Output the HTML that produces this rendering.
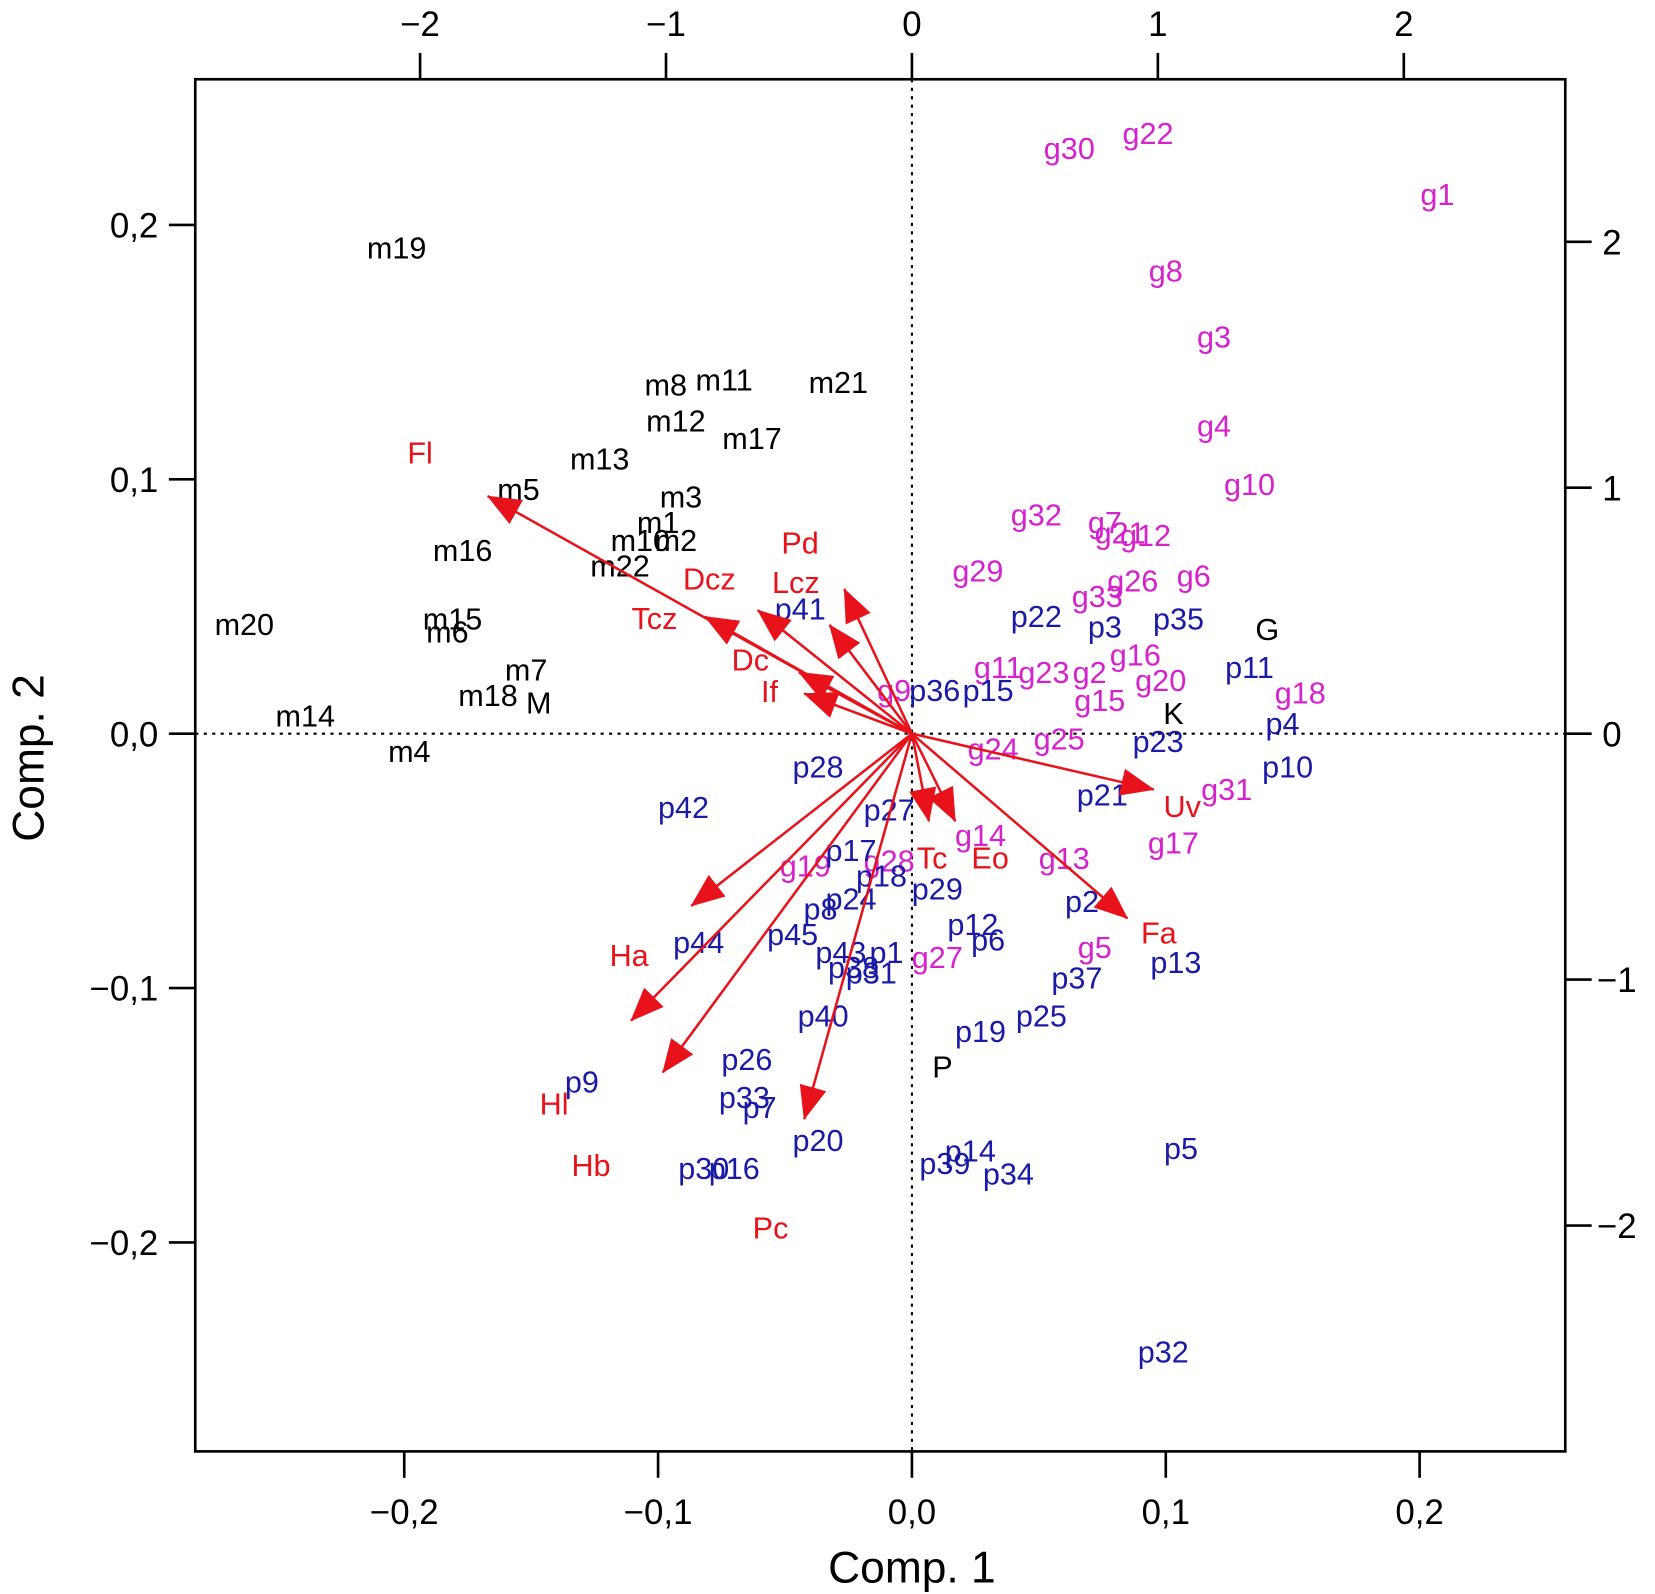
<!DOCTYPE html>
<html><head><meta charset="utf-8"><style>
html,body{margin:0;padding:0;background:#fff}
svg{display:block}
text{font-family:"Liberation Sans",Arial,sans-serif}
</style></head><body>
<svg id="chart" width="1655" height="1594" viewBox="0 0 1568 1510" xmlns="http://www.w3.org/2000/svg">
<defs><marker id="ah" viewBox="0 0 32 26" refX="31" refY="13" markerWidth="32" markerHeight="26" markerUnits="userSpaceOnUse" orient="auto"><path d="M0,0 L32,13 L0,26 z" fill="#e8121a"/></marker></defs>
<g id="plot"></g>
</svg>
<script>
const xTicks=[-0.2,-0.1,0,0.1,0.2];
const yTicks=[-0.2,-0.1,0,0.1,0.2];
const xTickLabels=["\u22120,2","\u22120,1","0,0","0,1","0,2"];
const yTickLabels=["\u22120,2","\u22120,1","0,0","0,1","0,2"];
const topTicks=[-2,-1,0,1,2];
const rightTicks=[-2,-1,0,1,2];
const topTickLabels=["\u22122","\u22121","0","1","2"];
const rightTickLabels=["\u22122","\u22121","0","1","2"];
const mNames=["m19","m8","m11","m21","m12","m17","m13","m3","m5","m1","m10","m2","m22","m16","m20","m15","m6","m7","m18","M","m14","m4"];
const mX=[-0.203,-0.097,-0.074,-0.029,-0.093,-0.063,-0.123,-0.091,-0.155,-0.100,-0.107,-0.093,-0.115,-0.177,-0.263,-0.181,-0.183,-0.152,-0.167,-0.147,-0.239,-0.198];
const mY=[0.191,0.137,0.139,0.138,0.123,0.116,0.108,0.093,0.096,0.083,0.076,0.076,0.066,0.072,0.043,0.045,0.040,0.025,0.015,0.012,0.007,-0.007];
const gNames=["g30","g22","g1","g8","g3","g4","g10","g32","g7","g21","g12","g29","g26","g6","g33","g16","g11","g23","g2","g20","g18","g15","g9","g25","g24","g31","g17","g14","g13","g28","g19","g5","g27"];
const gX=[0.062,0.093,0.207,0.100,0.119,0.119,0.133,0.049,0.076,0.082,0.092,0.026,0.087,0.111,0.073,0.088,0.034,0.052,0.070,0.098,0.153,0.074,-0.007,0.058,0.032,0.124,0.103,0.027,0.060,-0.009,-0.042,0.072,0.010];
const gY=[0.230,0.236,0.212,0.182,0.156,0.121,0.098,0.086,0.083,0.079,0.078,0.064,0.060,0.062,0.054,0.031,0.026,0.024,0.024,0.021,0.016,0.013,0.017,-0.002,-0.006,-0.022,-0.043,-0.040,-0.049,-0.050,-0.052,-0.084,-0.088];
const pNames=["p22","p3","p35","p41","p36","p15","p11","p4","p23","p10","p21","p28","p42","p27","p17","p18","p24","p8","p29","p2","p12","p6","p44","p45","p43","p1","p38","p31","p13","p37","p40","p25","p19","p26","p9","p33","p7","p20","p14","p39","p34","p30","p16","p5","p32"];
const pX=[0.049,0.076,0.105,-0.044,0.009,0.030,0.133,0.146,0.097,0.148,0.075,-0.037,-0.090,-0.009,-0.024,-0.012,-0.024,-0.036,0.010,0.067,0.024,0.030,-0.084,-0.047,-0.028,-0.010,-0.023,-0.016,0.104,0.065,-0.035,0.051,0.027,-0.065,-0.130,-0.066,-0.060,-0.037,0.023,0.013,0.038,-0.082,-0.070,0.106,0.099];
const pY=[0.046,0.042,0.045,0.049,0.017,0.017,0.026,0.004,-0.003,-0.013,-0.024,-0.013,-0.029,-0.030,-0.046,-0.056,-0.065,-0.069,-0.061,-0.066,-0.075,-0.081,-0.082,-0.079,-0.086,-0.086,-0.092,-0.094,-0.090,-0.096,-0.111,-0.111,-0.117,-0.128,-0.137,-0.143,-0.147,-0.160,-0.164,-0.169,-0.173,-0.171,-0.171,-0.163,-0.243];
const kNames=["P","G","K"];
const kX=[0.012,0.140,0.103];
const kY=[-0.131,0.041,0.008];
const vNames=["Fl","Tcz","Dcz","Lcz","Pd","Dc","If","Uv","Fa","Tc","Eo","Ha","Hl","Hb","Pc"];
const vX=[-1.725,-0.841,-0.627,-0.275,-0.335,-0.459,-0.438,0.983,0.876,0.069,0.176,-0.897,-1.142,-1.013,-0.438];
const vY=[0.966,0.476,0.502,0.588,0.442,0.249,0.163,-0.227,-0.751,-0.356,-0.356,-0.700,-1.167,-1.378,-1.567];
const vLabelX=[-2.000,-1.047,-0.824,-0.472,-0.455,-0.657,-0.579,1.099,1.004,0.082,0.318,-1.150,-1.455,-1.305,-0.575];
const vLabelY=[1.142,0.468,0.629,0.614,0.776,0.300,0.172,-0.296,-0.811,-0.506,-0.506,-0.901,-1.506,-1.755,-2.009];

const NS="http://www.w3.org/2000/svg";
const g=document.getElementById('plot');
const L=185,R=1483,T=75,B=1375,X0=864,Y0=695;
const sx=v=>X0+v*2405, sy=v=>Y0-v*2410;
const lx=v=>X0+v*233, ly=v=>Y0-v*233;
function mk(tag,attrs,txt){const e=document.createElementNS(NS,tag);for(const k in attrs)e.setAttribute(k,attrs[k]);if(txt!==undefined)e.textContent=txt;g.appendChild(e);return e;}
let e=mk('line',{x1:L,x2:R,y1:Y0,y2:Y0,stroke:'#000','stroke-width':2,'stroke-dasharray':'3,5'});

e=mk('line',{x1:X0,x2:X0,y1:T,y2:B,stroke:'#000','stroke-width':2,'stroke-dasharray':'3,5'});

xTicks.forEach((v,i)=>{const x=sx(v);
 e=mk('line',{x1:x,x2:x,y1:B,y2:B+25,stroke:'#000','stroke-width':2.5});
 
 e=mk('text',{x:x,y:1444,'font-size':33,'text-anchor':'middle'},xTickLabels[i]);
 });
yTicks.forEach((v,i)=>{const y=sy(v);
 e=mk('line',{x1:L-25,x2:L,y1:y,y2:y,stroke:'#000','stroke-width':2.5});
 
 e=mk('text',{x:150,y:y+12,'font-size':33,'text-anchor':'end'},yTickLabels[i]);
 });
topTicks.forEach((v,i)=>{const x=lx(v);
 e=mk('line',{x1:x,x2:x,y1:T-25,y2:T,stroke:'#000','stroke-width':2.5});
 
 e=mk('text',{x:x,y:34,'font-size':33,'text-anchor':'middle'},topTickLabels[i]);
 });
rightTicks.forEach((v,i)=>{const y=ly(v);
 e=mk('line',{x1:R,x2:R+25,y1:y,y2:y,stroke:'#000','stroke-width':2.5});
 
 e=mk('text',{x:rightTickLabels[i].length>1?1513:1518,y:y+12,'font-size':33,'text-anchor':'start'},rightTickLabels[i]);
 });
e=mk('rect',{x:L,y:T,width:R-L,height:B-T,fill:'none',stroke:'#000','stroke-width':2.5});

e=mk('text',{x:864,y:1499,'font-size':42,'text-anchor':'middle'},'Comp. 1');

e=mk('text',{x:0,y:0,'font-size':42,'text-anchor':'middle',transform:'translate(41,718) rotate(-90)'},'Comp. 2');

function pts(names,xs,ys,col,nm){names.forEach((n,i)=>{
 e=mk('text',{x:sx(xs[i]),y:sy(ys[i])+10,'font-size':29,'text-anchor':'middle',fill:col},n);
 });}
pts(mNames,mX,mY,'#000','label');
pts(gNames,gX,gY,'#d622cc','label');
pts(pNames,pX,pY,'#1a1aa6','label');
pts(kNames,kX,kY,'#000','group-label');
vNames.forEach((n,i)=>{
 e=mk('line',{x1:X0,y1:Y0,x2:lx(vX[i]),y2:ly(vY[i]),stroke:'#e8121a','stroke-width':2.4,'marker-end':'url(#ah)'});
 
 e=mk('text',{x:lx(vLabelX[i]),y:ly(vLabelY[i])+10,'font-size':29,'text-anchor':'middle',fill:'#e8121a'},n);
 });
</script>
</body></html>
